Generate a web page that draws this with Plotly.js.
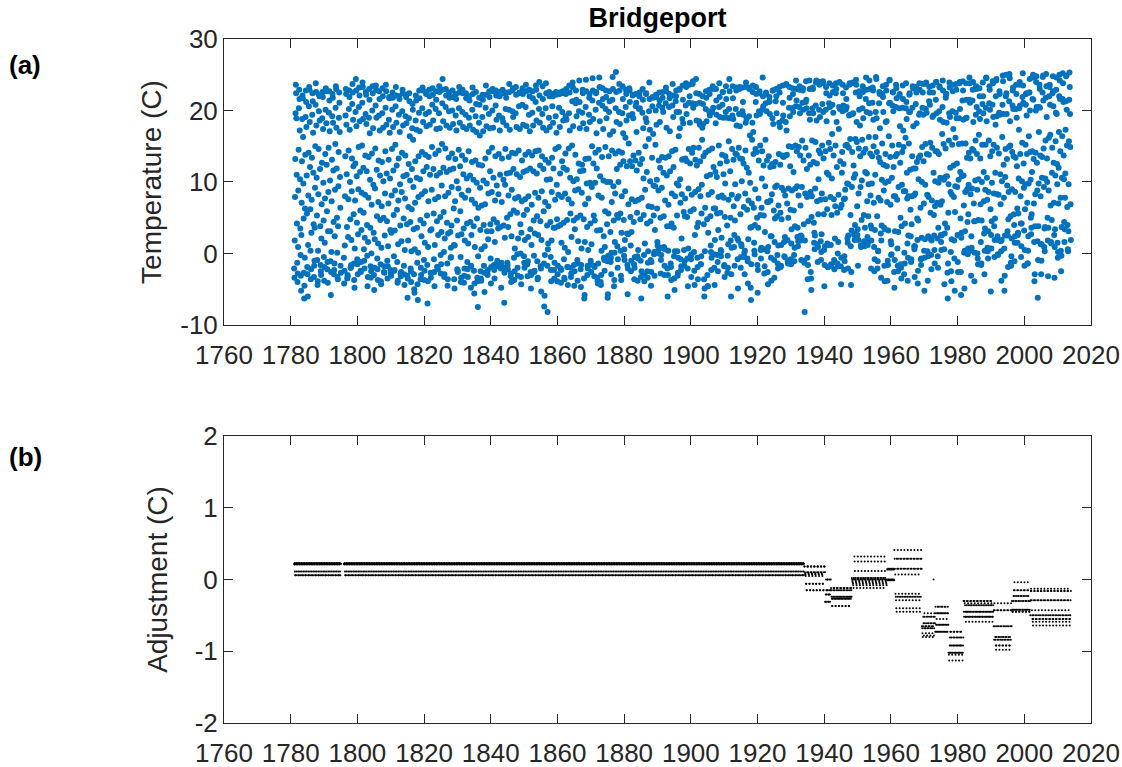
<!DOCTYPE html>
<html><head><meta charset="utf-8">
<script src="https://cdn.plot.ly/plotly-3.0.1.min.js"></script>
<style>html,body{margin:0;padding:0;background:#fff}</style>
</head><body><div id="chart" style="width:1122px;height:767px"></div>
<script>
// Monthly mean temperature (C), Jan..Dec, one row per year starting 1781
const firstYear = 1781;
const monthlyTemps = [
[-2.1,-3.4,1.8,7.9,13.2,19.6,23.6,22.4,18.9,11.0,4.2,-1.3],
[-4.0,-2.8,0.9,8.8,14.5,20.3,22.9,21.6,17.2,10.4,3.5,-0.2],
[-3.1,-5.2,2.6,7.1,12.9,18.8,22.1,21.7,16.3,9.8,4.9,-2.7],
[-6.3,-4.5,-0.6,6.3,13.8,19.1,22.8,21.2,17.7,10.9,5.6,-1.9],
[-2.9,-6.0,1.2,8.1,14.1,20.6,23.3,22.9,18.4,12.1,6.2,0.4],
[-3.6,-2.2,2.9,7.5,13.4,19.4,22.4,21.3,16.9,11.3,4.1,-3.3],
[-1.7,-1.0,3.6,9.2,15.0,20.8,23.8,22.6,17.9,10.6,5.3,-0.9],
[-4.4,-3.9,0.4,8.3,14.6,19.9,22.2,22.0,18.6,11.8,3.8,-1.6],
[-2.5,-3.0,2.1,6.9,12.7,18.9,22.6,21.9,17.4,9.9,4.6,-0.5],
[-3.8,-1.9,1.5,7.7,13.9,20.1,23.1,22.7,18.2,12.4,5.9,-2.2],
[-1.2,-4.1,3.1,8.6,14.8,19.7,22.7,21.4,17.1,10.2,3.1,-1.1],
[-5.8,-2.6,0.2,7.3,13.1,19.2,22.3,21.8,18.3,11.6,4.4,-2.9],
[-2.3,-1.4,2.4,8.9,15.3,20.4,23.4,23.0,17.6,11.9,5.0,0.1],
[-3.3,-3.6,3.8,9.4,14.2,19.0,22.5,21.1,17.0,10.7,6.4,-1.7],
[-2.7,null,null,null,null,null,null,null,null,null,null,-0.6],
[-4.2,-2.4,1.1,8.0,13.6,19.3,23.0,22.3,18.0,11.1,3.7,-3.5],
[-3.0,-3.2,2.3,7.6,14.4,20.2,22.8,21.9,17.3,10.0,4.8,-2.0],
[-2.0,-1.6,1.9,8.7,13.3,20.9,23.7,22.5,18.7,12.2,5.5,-1.4],
[-3.7,-4.8,0.7,7.4,12.6,19.8,24.4,22.8,17.8,10.8,4.3,-0.8],
[-1.5,-2.9,2.7,9.0,14.9,20.5,23.2,22.1,18.5,11.4,6.0,-2.4],
[-2.6,-1.2,3.3,8.5,15.1,21.1,23.9,23.3,18.8,12.0,5.7,0.6],
[-1.0,-2.1,2.2,8.2,13.7,19.5,22.6,22.2,18.1,11.5,4.0,-0.3],
[-4.6,-3.3,1.6,7.8,13.5,19.0,23.0,21.5,16.8,10.3,3.6,-1.8],
[-3.4,-2.5,0.0,6.8,14.0,20.0,23.4,22.4,17.5,9.6,2.9,-3.0],
[-5.1,-2.0,2.0,9.1,14.7,20.7,23.5,22.9,19.0,11.7,5.2,-0.7],
[-2.2,-3.7,1.4,7.2,13.0,19.3,22.7,21.6,17.2,10.9,4.7,-1.5],
[-3.9,-4.3,0.8,6.6,12.8,19.6,23.1,22.0,17.6,10.1,5.0,-2.6],
[-1.8,-2.7,2.5,8.4,14.3,20.4,23.6,22.7,18.0,11.2,4.5,-1.0],
[-3.5,-1.8,1.0,7.0,13.1,18.7,21.9,21.7,16.9,10.5,3.3,-2.3],
[-2.8,-3.1,2.9,8.1,14.6,20.1,22.5,21.8,17.7,11.6,5.4,-0.4],
[-2.4,-2.3,3.2,8.8,15.2,20.6,23.3,22.1,18.3,12.3,6.1,-1.2],
[-4.1,-3.8,1.3,7.4,13.3,19.4,22.0,21.6,17.0,9.7,3.9,-2.8],
[-3.2,-2.6,1.7,8.6,14.1,19.9,22.9,22.4,17.9,10.8,4.9,-1.7],
[-2.9,-4.4,0.5,7.7,13.7,19.2,22.2,21.9,18.2,11.0,4.1,-3.1],
[-6.2,-3.5,1.8,6.5,12.5,18.9,22.4,21.3,16.4,10.2,4.4,-2.1],
[-2.5,-4.0,0.3,6.2,11.8,17.5,20.9,20.1,15.9,9.3,3.4,-2.9],
[-5.0,-5.5,0.6,7.1,12.9,18.6,22.1,21.4,17.3,10.6,3.6,-1.3],
[-4.3,-6.5,0.1,7.9,13.6,19.7,22.8,21.7,17.1,10.4,4.7,-3.6],
[-2.0,-3.0,2.4,8.3,14.2,20.3,23.2,22.8,18.4,11.5,4.2,-0.9],
[-3.7,-2.4,1.5,8.7,13.8,19.5,22.6,22.3,17.8,12.1,5.3,-1.6],
[-7.0,-3.9,0.9,7.3,13.5,19.8,22.9,22.0,18.0,11.0,3.2,-2.7],
[-3.4,-2.8,3.4,8.9,14.9,20.8,23.1,22.2,18.6,11.8,5.6,-0.8],
[-2.6,-4.6,1.2,7.6,13.9,20.2,22.7,21.5,17.4,10.9,4.5,-1.9],
[-1.9,-2.2,2.6,7.9,14.4,19.6,23.4,22.6,17.5,11.3,5.1,-0.2],
[-2.8,-1.5,3.0,9.5,15.3,21.0,24.4,22.9,18.5,12.0,5.8,0.2],
[-3.3,-2.9,2.1,8.0,14.7,20.5,23.0,22.1,17.9,11.4,4.3,-1.4],
[-4.5,-3.6,2.8,8.5,13.4,19.9,22.5,21.8,17.6,11.7,3.0,-0.6],
[0.8,-0.5,3.9,9.3,14.0,20.0,22.8,21.9,18.1,11.9,6.3,1.2],
[-3.6,-4.9,1.1,7.3,13.2,19.3,22.3,21.6,17.2,10.1,4.6,-2.2],
[-2.4,-2.6,2.5,9.1,14.5,20.3,23.3,22.5,18.3,12.2,5.9,-0.5],
[-4.0,-3.4,2.7,8.2,13.7,19.8,22.9,22.4,17.7,11.1,3.5,-4.1],
[-3.1,-2.1,1.8,7.8,13.1,19.4,22.4,21.7,17.4,10.5,4.2,-1.2],
[-2.2,-3.3,1.4,8.8,14.3,19.0,22.0,21.4,17.9,10.9,4.4,-1.8],
[-4.8,-1.7,2.6,7.5,12.8,20.1,23.2,22.3,17.3,10.3,3.8,-2.4],
[-5.6,-4.2,0.9,7.0,13.0,19.2,22.6,20.9,17.0,9.9,4.9,-3.4],
[-3.9,-7.5,-0.4,6.4,12.4,18.3,21.8,20.8,16.5,9.2,3.3,-2.5],
[-3.5,-3.8,0.6,6.7,12.3,19.1,22.2,21.5,17.1,10.2,4.0,-1.7],
[-2.7,-5.4,1.0,6.9,13.3,20.4,23.5,22.2,17.8,9.8,3.1,-2.8],
[-3.0,-2.3,2.0,8.4,14.2,19.5,22.7,21.9,17.5,11.5,4.1,-0.7],
[-4.2,-1.9,3.1,8.6,14.8,20.0,23.0,22.7,17.6,10.6,4.8,-1.6],
[-2.3,-3.5,1.6,7.4,13.6,20.7,22.8,22.1,18.7,9.5,4.3,-1.0],
[-1.4,-1.8,3.5,8.3,13.9,19.3,22.6,22.0,17.2,11.0,3.7,-1.9],
[-2.1,-4.8,-1.3,7.2,13.3,18.9,22.9,22.4,18.4,10.3,3.9,-2.0],
[-6.9,-2.7,2.2,9.6,14.6,20.2,22.5,21.8,17.9,11.2,5.0,-1.3],
[-1.6,-2.2,3.7,8.1,13.5,20.1,23.7,22.6,17.3,11.3,5.5,-3.2],
[-2.8,-4.0,2.4,8.9,14.1,19.9,22.8,23.1,19.1,11.8,6.0,-0.6],
[-3.7,-2.5,0.7,7.7,14.0,19.6,23.3,22.2,17.7,11.1,5.7,-0.1],
[-2.0,-3.1,2.1,7.9,14.4,20.6,22.4,22.5,17.4,10.7,4.1,0.0],
[-3.3,-4.3,2.9,7.3,13.0,20.8,23.1,22.3,18.0,11.4,5.4,-0.4],
[-1.3,-2.0,1.9,7.6,13.8,20.5,23.6,22.7,17.8,11.6,6.1,-1.5],
[-3.2,-1.1,2.3,8.0,14.2,19.4,22.9,22.0,17.1,11.9,3.4,-2.6],
[-4.9,-3.0,1.2,6.8,13.7,19.7,22.7,21.7,17.9,11.5,4.6,-0.3],
[-2.6,-2.4,2.8,8.5,14.3,21.2,23.5,22.9,18.6,11.2,5.2,-1.1],
[-3.6,-3.4,2.6,7.8,14.4,20.2,24.0,22.1,18.3,12.3,4.5,-1.8],
[-2.1,-5.3,1.9,8.7,13.6,19.5,23.4,21.6,17.6,11.8,5.9,-1.4],
[-7.4,-5.9,-0.2,7.2,13.1,20.3,23.8,22.4,17.2,10.3,3.9,-1.7],
[-8.2,0.6,1.4,6.6,12.7,19.0,22.6,22.0,17.7,10.4,4.4,-0.5],
[-2.3,-3.9,1.8,8.6,13.4,20.6,22.3,22.0,18.3,11.9,3.6,-2.3],
[-3.5,-1.3,3.6,7.5,14.6,19.2,22.6,22.2,16.9,9.6,4.8,-3.9],
[-2.9,-1.7,3.8,8.2,14.9,20.4,22.5,22.3,17.7,11.2,4.0,-2.1],
[-4.1,-2.3,1.5,7.9,12.9,19.8,22.7,22.4,18.6,12.0,4.3,-0.8],
[-3.4,-3.6,0.8,8.4,14.0,19.2,22.3,23.0,18.7,11.7,4.7,-1.9],
[-1.9,-4.4,0.2,7.6,14.7,19.6,23.5,22.5,17.2,10.6,5.6,-2.0],
[-3.3,-2.8,2.3,7.0,15.1,21.3,23.9,23.2,17.8,10.1,4.6,-1.6],
[-4.5,-2.5,3.4,8.8,13.8,21.0,22.8,21.5,19.2,10.4,5.0,-0.9],
[-3.8,-1.4,1.7,9.0,12.6,19.9,24.2,21.2,17.5,11.5,5.3,-2.2],
[-4.7,-1.6,0.7,8.5,12.4,19.7,22.9,22.4,18.2,11.6,4.8,-3.5],
[-6.3,-5.8,1.6,6.9,13.2,20.5,24.3,22.7,17.4,9.8,3.7,-3.0],
[-1.7,-2.1,0.5,7.7,13.3,19.4,21.8,22.3,18.4,9.9,4.2,-1.0],
[-1.5,-2.6,1.3,9.3,15.0,21.4,24.5,22.8,18.8,12.6,5.3,-1.7],
[-3.2,-1.9,4.6,9.9,14.1,20.1,22.4,22.6,16.8,11.9,3.2,-3.4],
[-3.9,-4.2,-1.4,8.1,14.5,21.1,24.6,23.3,18.5,10.8,3.3,-4.0],
[-4.4,-3.0,0.4,7.8,13.5,20.7,23.1,21.6,17.4,10.2,2.4,-0.6],
[-0.9,-2.4,0.9,5.9,14.9,20.2,22.8,21.9,18.9,10.0,4.1,-1.1],
[-6.2,-5.7,-0.3,5.6,13.6,19.8,22.7,21.3,16.6,10.0,3.0,-1.2],
[-0.6,-2.9,0.1,7.2,14.4,21.5,24.7,23.0,17.1,9.4,4.6,-4.6],
[-3.7,0.1,1.6,8.4,14.0,20.3,25.4,22.6,18.4,11.8,5.4,1.0],
[-2.0,-0.8,5.0,10.0,14.3,19.8,23.7,22.8,18.1,12.4,5.6,0.4],
[-3.1,-3.7,2.9,8.0,14.1,19.6,23.4,21.6,16.8,12.9,4.7,-0.3],
[0.6,-0.9,1.9,8.7,16.2,20.5,22.9,22.3,18.6,12.2,2.8,-1.6],
[-5.7,-2.1,2.7,6.9,15.4,19.3,23.1,22.8,21.2,12.9,5.1,1.1],
[-2.5,-1.0,3.0,7.6,12.2,19.5,22.1,22.2,18.9,13.7,4.4,-1.5],
[-3.6,-2.0,-0.5,7.3,13.0,20.6,22.3,21.1,17.0,11.6,5.7,-0.4],
[-3.8,-0.7,0.5,7.5,14.1,20.2,22.0,22.5,20.3,12.5,4.8,-1.0],
[-3.3,-6.3,-2.5,7.8,13.2,19.7,23.0,21.5,17.5,10.5,5.4,-0.2],
[-3.9,-3.0,1.4,8.9,15.0,18.9,22.3,22.4,18.4,11.4,4.2,-2.5],
[-3.4,-1.3,0.3,6.6,16.0,19.9,23.9,21.6,17.3,10.1,4.5,-0.9],
[-4.5,-2.6,-1.2,6.5,13.4,20.6,21.9,21.8,16.7,9.5,5.3,-0.1],
[0.2,-3.1,3.3,9.4,15.2,20.0,22.2,21.9,18.0,10.3,6.3,1.6],
[1.1,0.4,0.0,8.8,13.0,20.7,22.5,21.4,18.4,12.0,5.0,-2.8],
[-0.9,-0.2,0.8,9.2,13.5,20.4,21.8,22.6,19.8,11.3,5.2,0.9],
[-3.0,-1.7,0.6,7.4,13.4,21.0,23.2,22.7,17.6,10.9,3.8,-2.1],
[-6.0,-3.0,0.4,6.8,13.6,20.5,22.3,21.7,17.1,11.5,3.8,-1.4],
[-1.9,-3.7,4.2,8.4,14.3,20.7,23.7,22.1,19.1,12.1,3.6,-0.4],
[-3.5,-5.1,0.3,8.0,14.5,21.3,22.0,22.8,19.8,9.8,5.3,0.3],
[-3.1,-2.7,-0.6,9.5,16.4,19.8,23.0,22.9,17.5,10.4,7.1,-0.8],
[-2.3,-1.8,2.1,8.3,13.1,18.8,23.5,21.5,18.2,13.2,5.8,0.5],
[-1.7,-1.1,5.2,7.7,13.3,20.7,23.8,23.3,19.5,12.9,5.1,-0.7],
[-2.1,-4.6,0.7,9.1,14.6,21.1,23.6,22.0,18.3,12.6,5.9,-0.3],
[-0.8,-3.3,-0.1,8.2,14.1,21.0,23.7,24.1,20.4,14.8,6.2,0.2],
[-2.4,-4.4,2.6,8.6,13.1,20.9,24.4,22.4,18.6,12.3,3.7,-0.6],
[-1.9,-3.6,4.3,9.0,14.8,18.5,22.3,21.1,18.0,12.9,8.0,-1.5],
[-1.5,-0.4,5.6,9.6,15.9,17.6,22.0,20.9,18.1,13.6,4.1,-3.6],
[-6.0,-4.9,0.3,6.4,14.1,20.2,22.7,21.8,18.5,10.8,4.8,-3.0],
[-4.6,-4.6,2.9,8.2,14.4,19.9,22.9,22.3,19.3,11.0,5.2,1.1],
[0.2,-2.3,-0.6,8.6,14.7,19.8,23.4,23.0,20.4,12.1,6.3,-0.1],
[-2.0,-4.4,1.9,6.3,11.4,18.2,23.0,21.4,19.4,10.7,5.6,-0.2],
[-1.2,-2.5,3.3,7.9,15.1,20.5,23.8,21.9,19.1,12.6,5.7,0.5],
[-0.4,0.3,2.2,8.1,13.8,20.8,22.6,22.6,19.0,11.1,7.8,-1.8],
[-1.6,-3.3,5.1,9.8,13.6,19.8,23.4,21.6,19.0,12.9,3.9,-2.7],
[-0.3,-2.0,1.3,7.5,15.7,20.2,24.4,22.7,18.9,11.5,5.0,1.8],
[-6.0,-2.9,0.8,8.2,14.6,19.3,23.4,21.7,18.8,13.1,6.6,0.9],
[2.6,-1.7,4.6,9.7,14.0,20.2,23.2,22.8,17.9,13.8,7.7,2.1],
[-0.8,-4.9,1.8,8.0,14.8,19.5,23.0,23.3,17.8,13.3,5.5,-2.0],
[-0.5,1.3,1.0,10.1,13.2,19.9,23.2,21.2,19.4,12.6,6.5,-0.5],
[0.1,-2.9,0.4,8.4,14.4,18.3,23.9,23.3,18.8,12.0,6.1,-0.7],
[-1.1,-4.2,2.0,7.4,11.3,19.2,23.0,23.2,16.5,9.9,3.6,-4.8],
[-6.5,-1.5,3.7,7.0,15.9,18.3,22.6,23.5,17.0,13.9,6.4,1.5],
[0.4,-0.1,4.0,9.0,14.6,21.2,23.3,22.3,19.3,14.2,5.0,-1.6],
[-5.5,-2.3,3.6,7.7,13.0,19.9,22.4,22.7,19.5,15.1,5.4,0.5],
[-0.7,0.8,6.4,10.5,14.3,20.1,24.6,22.0,20.6,12.3,5.3,0.6],
[-2.8,-1.8,3.0,9.4,15.9,21.0,22.5,22.3,19.9,13.0,7.2,0.3],
[-2.6,-4.3,0.9,7.2,13.6,21.2,21.9,21.3,19.5,12.1,7.4,2.4],
[-0.6,-3.8,2.4,8.3,12.5,18.9,22.8,22.8,18.1,12.2,6.0,-0.9],
[-3.4,1.6,4.9,9.3,12.8,21.3,23.0,22.0,19.6,9.5,5.2,-0.2],
[-1.4,-2.1,1.1,6.7,13.9,18.3,23.3,22.5,17.7,12.4,5.7,-1.9],
[-1.7,1.2,4.8,9.2,13.7,18.6,23.5,21.1,19.3,13.5,8.8,1.6],
[-0.4,-0.5,2.3,8.1,13.7,18.4,23.6,23.7,17.2,13.8,7.0,1.9],
[-1.0,-1.4,5.0,9.1,15.0,20.4,23.3,21.8,19.2,12.2,6.1,-0.8],
[-1.5,1.4,3.4,8.8,14.9,20.3,23.1,22.3,19.8,11.4,6.0,-0.2],
[-1.1,0.8,3.8,9.1,15.1,20.6,24.2,23.0,21.4,14.3,9.4,2.3],
[3.6,1.0,1.7,8.1,14.9,20.5,22.9,23.4,19.6,13.7,6.7,2.5],
[1.8,-0.9,2.4,9.3,15.8,21.1,22.8,23.1,20.1,13.0,4.1,-1.0],
[-1.3,-8.2,1.8,8.4,14.8,21.2,24.1,21.5,20.3,11.8,7.9,-0.6],
[-3.6,-1.6,4.5,8.3,13.7,19.6,24.2,23.0,18.7,12.4,8.6,-2.6],
[-3.5,-5.1,5.1,8.0,15.8,20.3,23.2,23.0,19.6,12.8,4.3,1.5],
[2.9,0.6,2.5,9.1,15.6,20.7,23.9,24.2,18.6,12.6,7.3,1.3],
[-1.2,0.9,5.5,10.4,14.4,20.1,23.6,24.0,19.1,14.0,7.5,1.7],
[-0.9,0.2,2.7,8.4,15.1,20.9,23.8,24.1,19.8,13.3,5.5,0.5],
[-4.6,-1.6,1.0,7.6,14.3,20.1,23.3,22.4,18.5,11.3,6.2,1.4],
[-1.9,-1.9,1.2,11.0,15.5,21.0,23.8,22.1,20.5,14.6,7.9,1.2],
[-1.5,-1.7,5.4,10.5,16.7,20.8,23.5,22.6,19.7,13.7,7.6,-0.9],
[-2.2,-1.2,2.1,6.6,15.1,22.4,23.8,23.0,18.4,12.1,5.7,-1.4],
[0.0,-1.8,1.6,8.2,17.4,20.5,24.0,23.9,20.2,12.9,6.4,-1.8],
[-4.3,-0.6,6.8,11.3,14.2,19.9,23.6,22.4,20.7,12.5,7.6,-2.3],
[-0.4,-1.1,7.7,8.9,15.1,20.1,23.2,21.6,20.5,15.2,9.8,2.1],
[1.5,-2.1,2.5,9.7,14.8,19.3,23.6,23.8,19.4,16.0,5.4,1.0],
[-4.4,-2.6,3.2,9.3,14.2,19.5,23.9,23.8,19.6,12.3,10.6,2.6],
[2.8,1.9,4.0,11.1,16.0,22.5,24.3,23.6,18.4,15.6,6.6,2.6],
[3.4,-1.7,1.9,8.4,14.7,20.1,22.7,22.0,17.9,13.6,9.3,1.1],
[0.9,1.1,4.7,10.2,15.9,20.3,23.4,22.6,18.9,14.1,5.4,1.7],
[1.3,1.0,3.6,11.4,14.6,21.6,24.6,22.9,19.8,11.2,7.3,2.3],
[1.2,1.6,5.2,9.7,16.3,21.0,24.2,23.0,19.6,14.0,8.1,3.9],
[-2.1,1.8,3.5,9.8,13.6,21.1,23.2,22.8,18.7,15.0,7.1,0.9],
[-2.5,-0.8,3.3,11.0,16.3,19.8,24.7,24.4,18.9,14.2,5.2,-2.1],
[-1.1,0.3,0.4,7.8,13.4,21.0,22.6,22.3,17.5,12.8,7.4,2.8],
[-3.4,1.8,3.9,10.3,15.4,22.3,23.4,21.9,19.8,12.4,8.8,3.6],
[-1.7,-3.9,3.4,9.9,13.9,18.4,23.6,22.8,18.5,12.2,7.2,-3.8],
[-1.0,-1.6,3.2,10.1,16.4,21.0,24.2,24.3,21.1,13.5,6.8,1.7],
[-0.2,1.3,-0.1,10.6,15.1,20.7,22.6,22.5,19.9,12.1,8.0,-2.6],
[-4.8,-0.9,3.1,8.0,13.6,20.5,23.6,23.1,21.7,13.9,7.5,0.7],
[-1.7,-2.5,3.0,9.3,15.2,20.3,22.1,22.3,17.8,12.7,5.0,-1.5],
[-2.0,-3.5,3.8,9.6,14.2,20.4,23.5,21.6,17.2,14.9,8.7,-2.9],
[0.1,-1.4,4.2,8.7,16.2,20.3,23.8,21.2,18.8,11.3,7.7,1.4],
[-3.8,-0.6,2.5,8.0,15.4,19.8,22.2,22.4,19.8,11.7,6.1,2.4],
[-1.2,-0.8,4.1,8.0,13.6,20.4,23.4,23.1,17.8,11.9,8.1,1.0],
[0.6,-3.3,1.0,8.4,11.9,20.9,23.3,22.5,18.2,12.8,4.9,1.9],
[-4.2,-2.4,4.6,10.4,13.4,19.4,23.8,22.9,19.6,13.7,6.4,-0.8],
[-1.6,-0.7,2.2,10.0,14.9,20.4,22.5,23.7,19.4,12.9,7.0,0.4],
[-5.2,-0.6,2.0,9.6,15.3,20.2,23.9,23.7,19.7,13.9,8.2,0.3],
[-3.8,-0.4,2.4,7.9,13.8,21.3,23.3,22.5,20.8,15.5,5.7,2.0],
[-0.2,-2.2,1.8,7.4,14.8,19.1,23.5,22.5,19.3,11.3,5.4,2.5],
[0.5,-1.4,6.6,10.1,14.3,21.5,24.0,24.0,19.6,14.3,7.1,2.1],
[-0.4,-2.0,3.6,9.9,13.9,19.9,23.4,23.2,18.7,10.6,6.8,2.6],
[1.6,0.5,2.5,7.3,16.7,20.5,24.2,22.8,18.4,15.3,10.3,0.6],
[-4.3,2.8,4.2,10.7,14.7,21.8,22.3,22.3,18.3,10.8,3.6,-2.7],
[-6.3,-1.4,5.7,9.7,15.8,19.6,23.9,23.2,19.1,12.0,8.6,0.2],
[-2.5,-3.9,2.0,8.2,15.2,19.9,22.7,23.6,17.4,12.3,7.9,1.8],
[-0.7,-5.2,5.8,9.4,16.2,19.7,23.7,22.9,18.9,12.6,9.3,2.6],
[-1.2,-2.6,2.5,10.3,15.3,18.9,23.8,24.0,20.2,11.4,4.9,-2.6],
[-5.8,2.2,2.9,10.8,15.4,21.4,24.1,22.8,18.7,10.9,6.7,0.1],
[-4.9,0.4,3.1,8.6,15.4,18.9,23.8,21.5,19.0,13.4,9.0,4.4],
[-0.1,0.7,5.5,9.6,14.1,21.5,24.6,23.8,21.1,13.3,8.3,0.4],
[-3.1,2.4,0.8,9.1,14.6,21.4,22.9,24.0,18.4,14.4,7.0,4.5],
[-3.9,0.1,4.5,10.2,15.8,19.4,23.4,23.0,20.5,13.9,8.9,0.0],
[-0.7,-1.5,4.7,10.4,16.6,19.9,23.1,22.0,18.8,13.3,6.9,1.6],
[-1.6,-1.4,4.6,10.0,15.2,20.9,23.9,22.0,19.6,11.4,7.3,2.8],
[-2.9,0.4,3.5,8.9,15.2,20.4,24.6,24.5,18.5,10.6,7.5,0.8],
[0.3,-0.7,3.1,8.6,15.8,21.0,23.4,22.9,20.1,13.6,6.2,-5.3],
[2.6,0.7,4.5,9.9,14.3,20.8,24.1,23.8,19.1,15.2,8.4,3.8],
[-0.5,1.9,4.9,11.3,18.0,22.0,24.2,24.4,19.2,14.8,8.3,2.4],
[-0.1,-0.2,1.9,8.2,14.0,19.7,22.7,22.3,19.4,11.1,6.9,1.7],
[0.3,-3.8,1.9,10.1,16.3,20.8,24.9,24.1,19.5,12.4,7.8,0.7],
[-5.2,-3.1,2.5,10.7,14.6,22.0,25.0,22.4,19.5,13.2,9.5,3.1],
[2.5,-1.9,4.8,8.6,14.9,21.3,25.1,24.5,18.5,15.1,5.2,-1.3],
[-1.7,-0.4,2.1,9.0,14.2,20.7,22.8,23.2,20.2,13.6,5.5,4.0],
[-1.1,1.5,2.4,8.6,13.4,20.2,23.6,22.3,19.0,12.2,6.3,1.5],
[2.6,2.9,5.6,10.5,17.3,20.3,23.6,24.0,20.7,13.9,8.0,4.2],
[-0.5,1.0,4.2,10.1,15.5,21.9,25.2,23.5,21.1,12.6,9.2,3.2],
[-1.7,0.5,6.2,9.7,15.2,20.8,22.3,22.4,19.3,13.9,7.1,-1.4],
[-1.4,0.4,2.4,9.8,16.4,22.5,22.5,24.4,20.0,14.2,10.3,5.0],
[2.7,3.6,5.5,11.4,14.3,21.6,24.6,25.0,21.5,13.2,7.0,1.6],
[-3.9,-2.9,3.8,8.3,14.1,20.0,24.0,24.8,20.5,12.7,8.8,1.7],
[-6.2,-0.9,3.8,9.8,17.0,20.5,23.6,23.0,20.4,13.7,8.0,1.3],
[-2.9,-1.0,1.3,10.6,13.5,22.5,24.7,24.9,21.4,14.7,9.3,0.9],
[3.5,0.3,3.7,10.5,15.8,21.8,25.1,23.4,19.1,13.3,10.0,5.0],
[1.8,-3.2,3.6,8.8,16.2,22.0,23.3,23.6,20.8,16.6,6.7,1.6],
[1.5,1.4,4.7,11.3,14.8,22.4,24.8,22.7,20.6,12.7,7.1,2.6],
[-3.4,0.9,3.4,10.9,15.7,19.7,22.9,24.6,19.5,12.5,9.7,1.5],
[-0.6,0.2,7.0,12.0,17.0,22.0,25.0,24.2,21.6,14.3,7.8,0.4],
[-2.5,-0.3,3.7,10.6,16.4,21.6,25.2,23.8,21.2,13.7,10.4,4.4],
[1.6,3.4,7.8,11.2,17.3,21.3,24.8,24.9,20.1,15.1,6.5,4.0],
[0.6,0.3,3.1,9.7,15.7,21.5,25.3,23.3,19.5,14.9,6.9,1.9]
];

// Homogenization adjustment (C): segments start (decimal year) and Jan..Dec adjustment within each
const segStart = [1781, 1934, 1940.25, 1942, 1948.25, 1958.75, 1961, 1969.25, 1973.25, 1977.25, 1981.75, 1990.75, 1996.25, 2001.75];
const segAdj = [
[0.22,0.21,0.23,0.11,0.06,0.06,0.22,0.21,0.23,0.11,0.06,0.22],
[0.18,0.18,0.10,0.08,0.07,0.05,-0.06,-0.06,-0.15,-0.15,0.10,0.18],
[0.00,-0.15,-0.21,-0.31,-0.31,-0.21,0.00,-0.15,-0.21,-0.31,-0.15,0.00],
[-0.12,-0.15,-0.24,-0.27,-0.37,-0.37,-0.27,-0.24,-0.15,-0.12,-0.24,-0.27],
[0.32,0.25,0.12,0.02,0.00,-0.02,-0.04,-0.06,-0.08,-0.12,0.02,0.00],
[0.15,0.14,0.00,-0.01,0.15,0.00,0.14,-0.01,0.15,0.00,0.14,-0.01],
[0.41,0.29,0.15,0.07,-0.20,-0.24,-0.29,-0.40,-0.45,0.29,0.15,-0.24],
[-0.47,-0.52,-0.61,-0.65,-0.68,-0.75,-0.80,-0.65,-0.52,-0.61,-0.78,-0.68],
[-0.38,-0.47,-0.63,-0.73,-0.38,-0.47,-0.63,-0.73,-0.55,-0.63,-0.47,-0.73],
[-0.73,-0.81,-0.92,-1.02,-1.05,-1.13,-1.02,-0.92,-0.81,-0.73,-0.92,-1.02],
[-0.30,-0.33,-0.36,-0.45,-0.52,-0.59,-0.52,-0.45,-0.36,-0.30,-0.45,-0.52],
[-0.33,-0.43,-0.65,-0.80,-0.84,-0.92,-0.98,-0.92,-0.80,-0.65,-0.43,-0.84],
[-0.04,-0.15,-0.23,-0.30,-0.42,-0.45,-0.45,-0.42,-0.30,-0.23,-0.15,-0.42],
[-0.13,-0.16,-0.29,-0.43,-0.50,-0.55,-0.59,-0.64,-0.55,-0.50,-0.29,-0.16]
];
// Isolated adjustment value
const extraAdjYear = [1972.79];
const extraAdjValue = [0.0];

const xTicks = [1760,1780,1800,1820,1840,1860,1880,1900,1920,1940,1960,1980,2000,2020];
const yTicksTop = [-10,0,10,20,30];
const yTicksBottom = [-2,-1,0,1,2];

// Build month-by-month series
const tx = [], ty = [], ax = [], ay = [];
monthlyTemps.forEach((row, i) => {
  const yr = firstYear + i;
  row.forEach((v, m) => {
    if (v === null) return;
    const t = yr + (m + 0.5) / 12;
    tx.push(t); ty.push(v);
    let s = 0;
    for (let k = 0; k < segStart.length; k++) if (t >= segStart[k]) s = k;
    ax.push(t); ay.push(segAdj[s][m]);
  });
});
extraAdjYear.forEach((t, i) => { ax.push(t); ay.push(extraAdjValue[i]); });

const ink = '#262626';
const FONT = '"Liberation Sans", Arial, Helvetica, sans-serif';
function xa(anchor) {
  return {anchor: anchor, range: [1760, 2020], tickvals: xTicks, ticktext: xTicks.map(String),
    ticks: 'inside', ticklen: 9, tickwidth: 1, tickcolor: ink, showline: true, linecolor: ink, linewidth: 1,
    mirror: 'ticks', showgrid: false, zeroline: false, ticklabelstandoff: 7,
    tickfont: {size: 26, color: ink, family: FONT}};
}
function ya(anchor, dom, rng, vals, title, so) {
  return {anchor: anchor, domain: dom, range: rng, tickvals: vals, ticktext: vals.map(String),
    ticks: 'inside', ticklen: 9, tickwidth: 1, tickcolor: ink, showline: true, linecolor: ink, linewidth: 1,
    mirror: 'ticks', showgrid: false, zeroline: false, tickfont: {size: 26, color: ink, family: FONT},
    title: {text: title, font: {size: 28, color: ink, family: FONT}, standoff: so}};
}

const traces = [
  {x: tx, y: ty, type: 'scatter', mode: 'markers', xaxis: 'x', yaxis: 'y',
   marker: {color: '#0072BD', size: 6}, hoverinfo: 'skip'},
  {x: ax, y: ay, type: 'scatter', mode: 'markers', xaxis: 'x2', yaxis: 'y2',
   marker: {color: '#000000', size: 2}, hoverinfo: 'skip'}
];

const layout = {
  width: 1122, height: 767, showlegend: false,
  paper_bgcolor: '#ffffff', plot_bgcolor: '#ffffff',
  font: {family: FONT, color: ink},
  margin: {l: 224, r: 31, t: 39, b: 44},
  title: {text: '<b>Bridgeport</b>', font: {size: 27, color: '#000', family: FONT},
          x: 0.5, xref: 'paper', y: 1 - 18/767, yref: 'container', yanchor: 'middle'},
  xaxis: xa('y'),
  yaxis: ya('x', [0.5819, 1], [-10, 30], yTicksTop, 'Temperature (C)', 10),
  xaxis2: xa('y2'),
  yaxis2: ya('x2', [0, 0.4196], [-2, 2], yTicksBottom, 'Adjustment (C)', 18),
  annotations: [
    {text: '<b>(a)</b>', xref: 'paper', yref: 'paper', x: (7-224)/867, y: (723-65)/684,
     xanchor: 'left', yanchor: 'middle', showarrow: false, font: {size: 26, color: '#000', family: FONT}},
    {text: '<b>(b)</b>', xref: 'paper', yref: 'paper', x: (7-224)/867, y: (723-457)/684,
     xanchor: 'left', yanchor: 'middle', showarrow: false, font: {size: 26, color: '#000', family: FONT}}
  ]
};

Plotly.newPlot('chart', traces, layout, {displayModeBar: false, staticPlot: true});
</script>
</body></html>
